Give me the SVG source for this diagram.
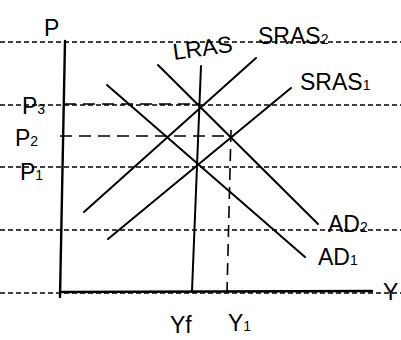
<svg xmlns="http://www.w3.org/2000/svg" width="401" height="340" viewBox="0 0 401 340">
<style>
.rule{stroke:#000;stroke-width:1.6;stroke-dasharray:5 3;fill:none}
.ax{stroke:#000;stroke-width:2.4;fill:none;stroke-linecap:round}
.cv{stroke:#000;stroke-width:2;fill:none;stroke-linecap:round}
.gd{stroke:#000;stroke-width:1.6;fill:none;stroke-dasharray:12 7}
text{font-family:"Liberation Sans","DejaVu Sans",sans-serif;fill:#000;font-size:23px}
.s{font-size:14px}
</style>
<rect width="401" height="340" fill="#fff"/>
<g id="ruling">
<line class="rule" x1="0" y1="42" x2="401" y2="42"/>
<line class="rule" x1="0" y1="105" x2="401" y2="105"/>
<line class="rule" x1="0" y1="167" x2="401" y2="167"/>
<line class="rule" x1="0" y1="230" x2="401" y2="230"/>
<line class="rule" x1="0" y1="293" x2="401" y2="293"/>
</g>
<g id="axes">
<line class="ax" x1="65" y1="41" x2="60" y2="297"/>
<line class="ax" x1="62" y1="292" x2="372" y2="291"/>
</g>
<g id="connectors">
<line class="gd" x1="64" y1="104" x2="200" y2="104"/>
<line class="gd" x1="60" y1="136" x2="231" y2="136"/>
<line class="gd" x1="231" y1="130" x2="227" y2="292"/>
</g>
<g id="LRAS"><line class="cv" x1="201" y1="66" x2="192" y2="291"/>
<text x="172" y="57" transform="rotate(-8 195 45)">LRAS</text></g>
<g id="SRAS2"><line class="cv" x1="84" y1="212" x2="256" y2="58"/>
<text x="258" y="44">SRAS<tspan class="s">2</tspan></text></g>
<g id="SRAS1"><line class="cv" x1="108" y1="239" x2="291" y2="88"/>
<text x="300" y="90">SRAS<tspan class="s">1</tspan></text></g>
<g id="AD2"><line class="cv" x1="158" y1="65" x2="318" y2="224"/>
<text x="328" y="232">AD<tspan class="s">2</tspan></text></g>
<g id="AD1"><line class="cv" x1="107" y1="85" x2="305" y2="257"/>
<text x="318" y="265">AD<tspan class="s">1</tspan></text></g>
<g id="labels">
<text x="44" y="36">P</text>
<text x="22" y="114">P<tspan class="s">3</tspan></text>
<text x="15" y="146">P<tspan class="s">2</tspan></text>
<text x="20" y="180">P<tspan class="s">1</tspan></text>
<text x="383" y="300" font-size="20">Y</text>
<text x="170" y="333">Yf</text>
<text x="228" y="331">Y<tspan class="s">1</tspan></text>
</g>
</svg>
